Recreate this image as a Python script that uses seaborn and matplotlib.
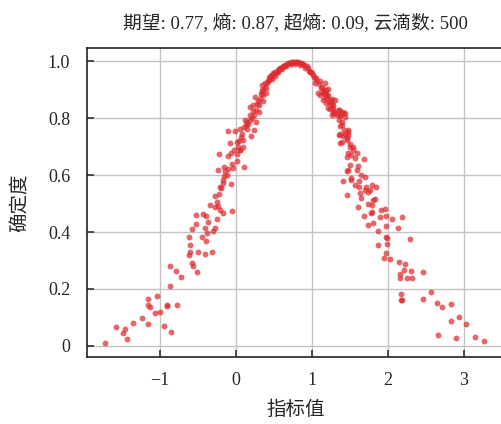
"""
云模型云滴图：期望 0.77，熵 0.87，超熵 0.09
"""
import pandas as pd
import matplotlib
matplotlib.use("Agg")
import matplotlib.pyplot as plt
import seaborn as sns

# 云滴坐标
drop_x = [
    -1.72, -1.58, -1.46, -1.48, -1.43, -1.35, -1.24, -1.16, -1.16, -1.16,
    -1.13, -1.06, -1.04, -1.00, -0.94, -0.91, -0.90, -0.85, -0.77, -0.86,
    -0.87, -0.79, -0.72, -0.58, -0.56, -0.51, -0.61, -0.60, -0.60, -0.61,
    -0.58, -0.53, -0.52, -0.50, -0.41, -0.44, -0.39, -0.38, -0.40, -0.36,
    -0.43, -0.39, -0.31, -0.30, -0.28, -0.25, -0.34, -0.28, -0.23, -0.25,
    -0.27, -0.22, -0.21, -0.17, -0.05, -0.19, -0.17, -0.07, -0.17,
    -0.21, -0.16, -0.24, -0.16, -0.10, -0.04, 0.11, -0.22, -0.10, -0.07,
    0.01, 0.05, 0.10, -0.08, 0.01, 0.09, 0.07, -0.11, -0.01, 0.06,
    0.11, 0.14, 0.20, 0.24, 0.27, 0.19, 0.14, 0.12, 0.18, 0.24,
    0.31, 0.26, 0.18, 0.23, 0.30, 0.36, 0.32, 0.25, 0.36, 0.39,
    0.34, 0.40, 0.34, 0.38, 0.42, 0.45, 0.49, 0.47, 0.54, 0.58,
    0.63, 0.69, 0.75, 0.82,
    0.86, 0.93, 0.97, 1.02, 1.06, 1.04, 1.11, 1.13, 1.17, 1.08,
    1.15, 1.19, 1.21, 1.17, 1.24, 1.30, 1.26, 1.21, 1.28, 1.26,
    1.35, 1.39, 1.43, 1.37, 1.43, 1.37, 1.48, 1.35, 1.41, 1.46,
    1.37, 1.50, 1.54, 1.48, 1.52, 1.59, 1.46, 1.57, 1.68, 1.50,
    1.61, 1.48, 1.59, 1.46, 1.65, 1.70, 1.41, 1.52, 1.57, 1.62,
    1.71, 1.79, 1.84, 1.46, 1.63, 1.70, 1.74, 1.65, 1.83,
    1.52, 1.62, 1.77, 1.80, 1.74, 1.79, 1.61, 1.79, 1.91, 1.96,
    1.69, 1.78, 1.89, 1.98, 2.06, 2.19, 1.74, 1.80, 1.97, 2.13,
    1.87, 1.97, 1.99, 2.29, 1.87, 1.99, 1.97, 1.95, 2.03, 2.15,
    2.22, 2.21, 2.30, 2.46, 2.16, 2.16, 2.25, 2.31, 2.57, 2.17,
    2.17, 2.19, 2.46, 2.64, 2.71, 2.83, 2.94, 2.83, 3.03, 2.66,
    2.89, 3.14, 3.26,
    1.11, 1.17, 1.21, 1.15, 1.26, 1.28, 1.19, 1.24, 1.35, 1.41,
    1.37, 1.28, 1.39, 1.37, 1.48, 1.46, 1.39, 1.50, 1.54,
    0.44, 0.46, 0.48, 0.50, 0.52, 0.55, 0.57, 0.60, 0.62, 0.65,
    0.67, 0.71, 0.73, 0.77, 0.79, 0.80, 0.84, 0.88, 0.90, 0.95,
    0.99, 1.00, 0.51, 0.56, 0.61, 0.66, 0.72, 0.78, 0.85, 0.91,
    0.96, 0.41, 0.43, 0.37, 0.35, 0.33, 0.29, 0.28, 0.22, 0.21,
    0.16, 0.13, 1.03, 1.05, 1.09, 1.12, 1.14, 1.16, 1.18, 1.20,
    1.23, 1.25, 1.29, 1.31, 1.33, 1.36, 1.40, 1.42, 1.44, 1.47,
    0.03, 0.04, -0.02, 0.08, -0.05, -0.12, -0.14, 0.02, 0.06,
]
drop_y = [
    0.009, 0.066, 0.060, 0.045, 0.024, 0.080, 0.098, 0.077, 0.164, 0.142,
    0.136, 0.115, 0.175, 0.118, 0.071, 0.144, 0.140, 0.048, 0.145, 0.210,
    0.281, 0.264, 0.243, 0.293, 0.281, 0.258, 0.320, 0.331, 0.354, 0.382,
    0.409, 0.430, 0.459, 0.330, 0.323, 0.382, 0.367, 0.396, 0.414, 0.437,
    0.464, 0.458, 0.331, 0.402, 0.416, 0.446, 0.494, 0.487, 0.493, 0.505,
    0.527, 0.534, 0.476, 0.466, 0.473, 0.554, 0.574, 0.569, 0.583,
    0.560, 0.598, 0.619, 0.628, 0.622, 0.625, 0.630, 0.675, 0.668, 0.677,
    0.675, 0.689, 0.698, 0.712, 0.715, 0.724, 0.733, 0.755, 0.755, 0.762,
    0.769, 0.762, 0.736, 0.759, 0.785, 0.794, 0.788, 0.794, 0.812, 0.812,
    0.823, 0.830, 0.841, 0.847, 0.847, 0.859, 0.867, 0.876, 0.882, 0.890,
    0.900, 0.906, 0.917, 0.923, 0.929, 0.947, 0.958, 0.937, 0.964, 0.976,
    0.984, 0.994, 0.999, 0.999,
    0.994, 0.982, 0.964, 0.953, 0.935, 0.923, 0.929, 0.911, 0.923, 0.888,
    0.888, 0.900, 0.882, 0.871, 0.865, 0.865, 0.853, 0.835, 0.835, 0.812,
    0.830, 0.823, 0.818, 0.808, 0.806, 0.773, 0.759, 0.742, 0.736, 0.724,
    0.712, 0.700, 0.689, 0.677, 0.671, 0.677, 0.665, 0.660, 0.656, 0.636,
    0.633, 0.619, 0.619, 0.613, 0.601, 0.595, 0.580, 0.589, 0.566, 0.560,
    0.560, 0.564, 0.558, 0.531, 0.537, 0.548, 0.542, 0.519, 0.516,
    0.583, 0.581, 0.548, 0.511, 0.499, 0.494, 0.488, 0.471, 0.478, 0.480,
    0.458, 0.466, 0.452, 0.456, 0.445, 0.452, 0.426, 0.431, 0.423, 0.414,
    0.402, 0.381, 0.378, 0.375, 0.355, 0.359, 0.326, 0.309, 0.307, 0.296,
    0.287, 0.267, 0.264, 0.258, 0.252, 0.237, 0.237, 0.240, 0.190, 0.182,
    0.161, 0.161, 0.164, 0.151, 0.136, 0.148, 0.103, 0.086, 0.077, 0.040,
    0.027, 0.033, 0.018,
    0.883, 0.887, 0.904, 0.863, 0.869, 0.846, 0.852, 0.834, 0.828, 0.817,
    0.811, 0.817, 0.787, 0.746, 0.752, 0.729, 0.717, 0.711, 0.699,
    0.940, 0.945, 0.952, 0.957, 0.962, 0.968, 0.972, 0.978, 0.983, 0.988,
    0.991, 0.995, 0.997, 0.999, 0.998, 0.997, 0.995, 0.990, 0.986, 0.975,
    0.962, 0.958, 0.950, 0.962, 0.972, 0.982, 0.990, 0.992, 0.986, 0.976,
    0.965, 0.925, 0.935, 0.905, 0.893, 0.885, 0.860, 0.850, 0.825, 0.800,
    0.780, 0.775, 0.945, 0.940, 0.920, 0.905, 0.898, 0.893, 0.880, 0.875,
    0.858, 0.845, 0.825, 0.820, 0.810, 0.795, 0.775, 0.760, 0.745, 0.740,
    0.700, 0.720, 0.690, 0.745, 0.640, 0.600, 0.615, 0.650, 0.690,
]

x_ticks = [-1, 0, 1, 2, 3]
y_ticks = [0, 0.2, 0.4, 0.6, 0.8, 1.0]
y_tick_labels = ['0', '0.2', '0.4', '0.6', '0.8', '1.0']
title = '期望: 0.77, 熵: 0.87, 超熵: 0.09, 云滴数: 500'

sns.set_style('whitegrid')
plt.rcParams['font.family'] = ['Liberation Serif', 'Noto Sans CJK SC']
plt.rcParams['axes.unicode_minus'] = True

df = pd.DataFrame({'x': drop_x, 'y': drop_y})

fig = plt.figure(figsize=(5.02, 4.24), dpi=100)
ax = fig.add_axes([0.173, 0.158, 0.83, 0.729])

sns.scatterplot(data=df, x='x', y='y', ax=ax, color='#de2b2f', alpha=0.72,
                s=18, linewidth=0, legend=False)

ax.set_xlim(-1.96, 3.52)
ax.set_ylim(-0.039, 1.047)
ax.set_xticks(x_ticks)
ax.set_yticks(y_ticks)
ax.set_yticklabels(y_tick_labels)
ax.tick_params(direction='in', length=5, width=1.2, labelsize=13,
               left=True, bottom=True, color='#333333')
ax.tick_params(axis='y', pad=12)
ax.tick_params(axis='x', pad=11)
ax.grid(True, color='#c4c4c4', linewidth=1.0)

for side in ['left', 'bottom', 'top']:
    ax.spines[side].set_color('#222222')
    ax.spines[side].set_linewidth(1.2)
ax.spines['right'].set_visible(False)

ax.set_xlabel('指标值', fontsize=14, labelpad=8)
ax.set_ylabel('确定度', fontsize=14, labelpad=13)
ax.set_title(title, fontsize=13.5, pad=14)

plt.savefig('out.png', dpi=100)
plt.close()
